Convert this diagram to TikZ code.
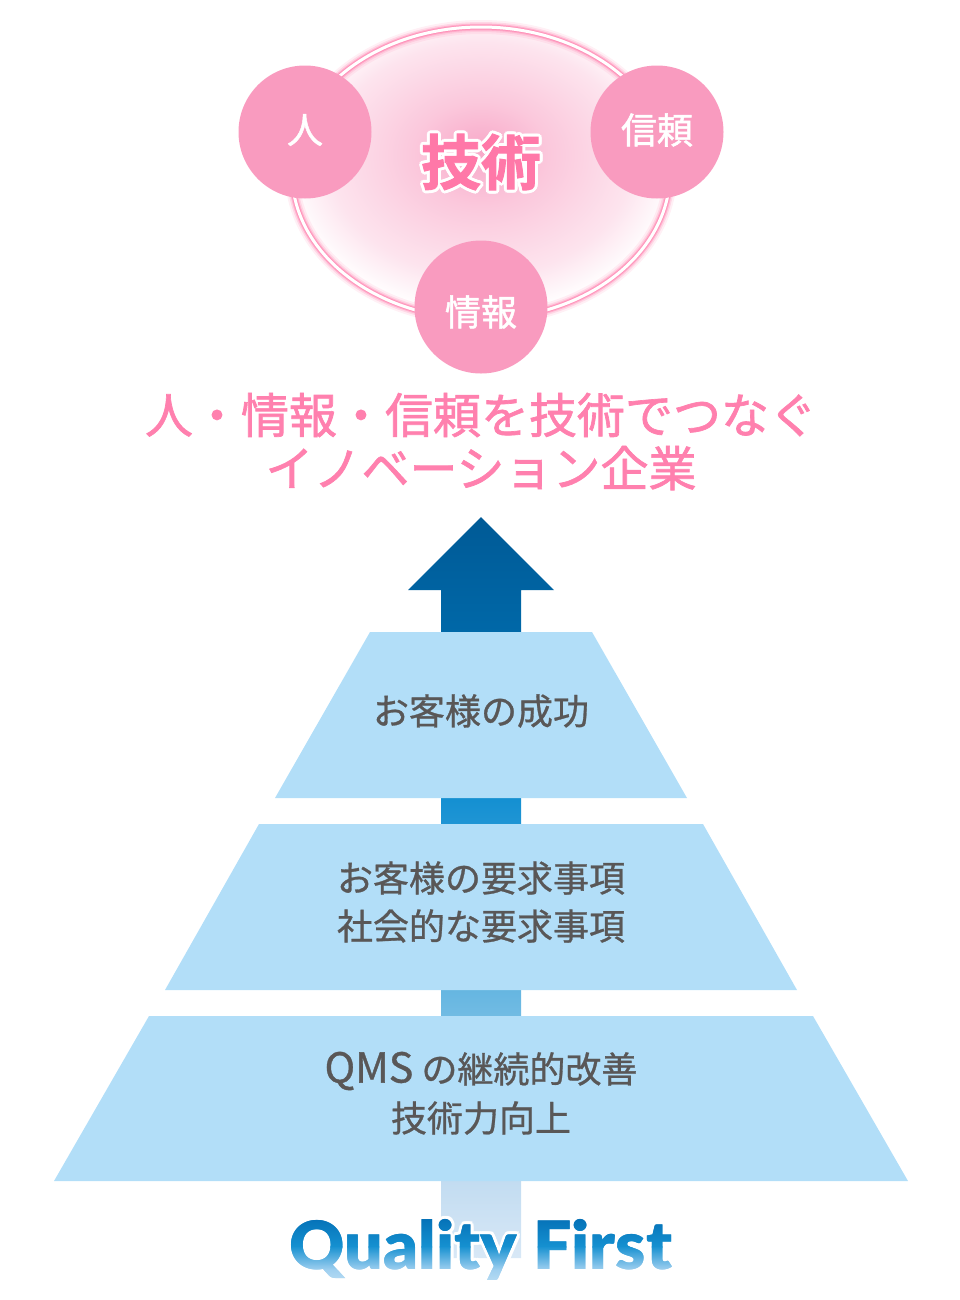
\documentclass[tikz,border=0pt]{standalone}
\usepackage{fontspec}
\usepackage{graphicx}
\usepackage{tikz}
\usetikzlibrary{calc}
\setmainfont{Noto Sans CJK JP}[FakeBold=0.8,BoldFont=* Bold,BoldFeatures={FakeBold=1.5}]
\newfontfamily\headfont{Noto Sans CJK JP}[FakeBold=1.4]
\newfontfamily\logofont{Lato Black}
\definecolor{headpink}{HTML}{FF80AE}
\definecolor{ballpink}{HTML}{F99BBF}
\definecolor{techpink}{HTML}{FF78A8}
\definecolor{tierblue}{HTML}{B2DEF8}
\definecolor{labelgray}{HTML}{595757}
\definecolor{arrowa}{HTML}{005A96}
\definecolor{arrowb}{HTML}{0068A8}
\definecolor{arrowc}{HTML}{1590D2}
\definecolor{arrowd}{HTML}{6AB8E2}
\definecolor{arrowe}{HTML}{C2DCF1}
\definecolor{arrowf}{HTML}{D8E8F6}
\definecolor{ovala}{HTML}{F8A8C8}
\definecolor{ovalb}{HTML}{FBC8DC}
\definecolor{ovalc}{HTML}{FDE4EE}
\definecolor{logoa}{HTML}{0068B0}
\definecolor{logob}{HTML}{1590D0}
\definecolor{logoc}{HTML}{A0D0F0}
\definecolor{logod}{HTML}{C8E4F5}
\pgfdeclareverticalshading{arrowshade}{100bp}{color(0bp)=(arrowf); color(25bp)=(arrowf);
  color(30.2bp)=(arrowe); color(42.4bp)=(arrowd); color(55.9bp)=(arrowc);
  color(67.2bp)=(arrowb); color(75bp)=(arrowa); color(100bp)=(arrowa)}
\pgfdeclareradialshading{ovalshade}{\pgfpoint{0bp}{4bp}}{color(0bp)=(ovala);
  color(9bp)=(ovalb); color(20bp)=(ovalc); color(26bp)=(white); color(50bp)=(white)}
\tikzset{
  ball/.style={circle,fill=ballpink,minimum size=133*0.75pt,inner sep=0pt},
  balltext/.style={text=white,font=\fontsize{27}{27}\headfont\selectfont,inner sep=0pt},
  heading/.style={text=headpink,font=\fontsize{36}{36}\headfont\selectfont,inner sep=0pt},
  tierlabel/.style={text=labelgray,font=\fontsize{27}{27}\selectfont,inner sep=0pt},
  techtext/.style={font=\fontsize{45}{45}\bfseries\selectfont,inner sep=0pt},
  logotext/.style={font=\fontsize{50}{50}\logofont\selectfont,inner sep=0pt}
}
\newcommand{\logoword}{\scalebox{1.02}[1]{Quality First}}
\begin{document}
\begin{tikzpicture}[x=0.75pt,y=-0.75pt]
        \useasboundingbox (0,0) rectangle (960,1300);
        \shade[shading=ovalshade] (481,173) ellipse [x radius=189,y radius=146];
        \foreach \w/\o in {14/.12,10/.22,7/.40,5/.60}
        \draw[headpink,opacity=\o,line width=\w*0.75pt] (481,173) ellipse [x radius=189,y radius=146];
        \draw[white,line width=2.25pt] (481,173) ellipse [x radius=189,y radius=146];
        \foreach \a in {0,30,...,330}
        \node[techtext,text=white] at ($(481,162)+(\a:3)$) {技術};
        \node[techtext,text=techpink] (tech) at (481,162) {技術};
        \node[ball] (person) at (305,132) {};
        \node[ball] (trust) at (657,132) {};
        \node[ball] (info) at (481,307) {};
        \node[balltext] (persontext) at (305,130) {人};
        \node[balltext] (trusttext) at (657,130) {信頼};
        \node[balltext] (infotext) at (481,312) {情報};
        \node[heading] (headone) at (481,415) {人・情報・信頼を技術でつなぐ};
        \node[heading] (headtwo) at (481,468) {イノベーション企業};
        \shade[shading=arrowshade] (481,517) -- (554,590) -- (521,590) -- (521,1258)
            -- (441,1258) -- (441,590) -- (408,590) -- cycle;
        \fill[tierblue] (370,632) -- (592,632) -- (687,798) -- (275,798) -- cycle;
        \fill[tierblue] (259,824) -- (703,824) -- (797,990) -- (165,990) -- cycle;
        \fill[tierblue] (149,1016) -- (813,1016) -- (908,1181) -- (54,1181) -- cycle;
        \node[tierlabel] (success) at (481,711) {お客様の成功};
        \node[tierlabel] (reqone) at (481,878) {お客様の要求事項};
        \node[tierlabel] (reqtwo) at (481,926) {社会的な要求事項};
        \node[tierlabel] (qms) at (481,1071) {{\fontsize{31}{31}\selectfont QMS} の継続的改善};
        \node[tierlabel] (skill) at (481,1118) {技術力向上};
        \foreach \a in {0,30,...,330}
        \node[logotext,text=white] at ($(481,1250)+(\a:3)$) {\logoword};
        \foreach \ya/\yb/\ca/\cb in {1210/1246/logoa/logob,1246/1270/logob/logoc,1270/1290/logoc/logod}
        \foreach \y in {\ya,...,\yb} {
            \pgfmathtruncatemacro{\p}{100*(\yb-\y)/(\yb-\ya)}
            \begin{scope}
            \clip (271,\y) rectangle (691,\y+1.3);
            \node[logotext,text=\ca!\p!\cb] at (481,1250) {\logoword};
            \end{scope}
        }
\end{tikzpicture}
\end{document}
